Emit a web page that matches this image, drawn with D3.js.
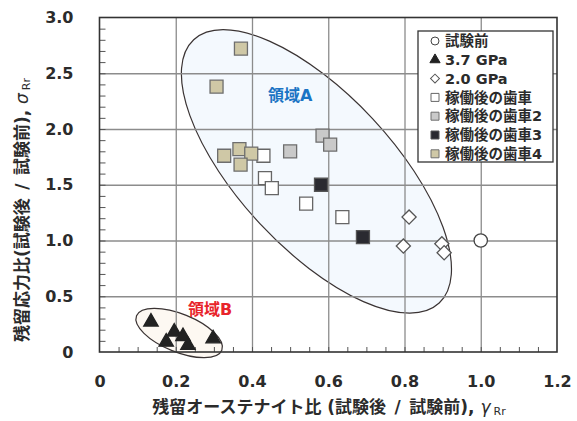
<!DOCTYPE html>
<html>
<head>
<meta charset="utf-8">
<script src="https://cdn.jsdelivr.net/npm/d3@7"></script>
<style>
body { margin: 0; background: #fff; }
text { font-family: "DejaVu Sans", "Noto Sans CJK JP", sans-serif; font-weight: bold; fill: #2b2b2b; }
</style>
</head>
<body>
<div class="canva"></div>
<script>
// data: [gamma Rr, sigma Rr]
const seriesNames = ["試験前", "3.7 GPa", "2.0 GPa", "稼働後の歯車", "稼働後の歯車2", "稼働後の歯車3", "稼働後の歯車4"];
const beforeTest = [[1.0, 1.0]];
const gpa37 = [[0.135, 0.27], [0.196, 0.18], [0.175, 0.09], [0.219, 0.14], [0.232, 0.06], [0.298, 0.12]];
const gpa20 = [[0.812, 1.21], [0.797, 0.95], [0.898, 0.97], [0.904, 0.89]];
const gear1 = [[0.43, 1.76], [0.434, 1.56], [0.452, 1.47], [0.542, 1.33], [0.637, 1.21]];
const gear2 = [[0.585, 1.94], [0.605, 1.86], [0.50, 1.80]];
const gear3 = [[0.581, 1.50], [0.691, 1.03]];
const gear4 = [[0.371, 2.72], [0.307, 2.38], [0.327, 1.76], [0.367, 1.82], [0.398, 1.78], [0.37, 1.68]];

const xTicks = [0, 0.2, 0.4, 0.6, 0.8, 1.0, 1.2];
const yTicks = [0, 0.5, 1.0, 1.5, 2.0, 2.5, 3.0];

const W = 577, H = 421;
const margin = {top: 17.5, right: 20, bottom: 69, left: 99.5};
const width = W - margin.left - margin.right;
const height = H - margin.top - margin.bottom;

const svg = d3.select(".canva").append("svg")
    .attr("width", W)
    .attr("height", H);

const g = svg.append("g")
    .attr("transform", `translate(${margin.left}, ${margin.top})`);

const x = d3.scaleLinear().domain([0, 1.2]).range([0, width]);
const y = d3.scaleLinear().domain([0, 3]).range([height, 0]);

// region ellipses (center in data units, radii in px)
const regions = [
    {cx: 0.569, cy: 1.62, rx: 180, ry: 77, angle: 47, fill: "#f4f9fe", label: "領域A", color: "#1b74c4", lx: 0.50, ly: 2.25},
    {cx: 0.209, cy: 0.17, rx: 46, ry: 19, angle: 22, fill: "#fdf8f2", label: "領域B", color: "#e8242b", lx: 0.29, ly: 0.33}
];

g.selectAll("ellipse.region")
    .data(regions)
    .enter()
    .append("ellipse")
    .attr("class", "region")
    .attr("transform", d => `translate(${x(d.cx)}, ${y(d.cy)}) rotate(${d.angle})`)
    .attr("rx", d => d.rx)
    .attr("ry", d => d.ry)
    .style("fill", d => d.fill)
    .style("stroke", "#3a3333")
    .style("stroke-width", 1.2);

// grid lines
g.append("g")
    .attr("transform", `translate(0, ${height})`)
    .call(d3.axisBottom(x).tickValues([0.2, 0.4, 0.6, 0.8, 1.0]).tickSize(height).tickFormat(""))
    .call(a => a.select(".domain").remove())
    .selectAll("line")
    .attr("transform", `translate(0, ${-height})`)
    .style("stroke", "#8c8c8c")
    .style("stroke-width", 1.3);

g.append("g")
    .call(d3.axisLeft(y).tickValues([0.5, 1.0, 1.5, 2.0, 2.5]).tickSize(-width).tickFormat(""))
    .call(a => a.select(".domain").remove())
    .selectAll("line")
    .style("stroke", "#8c8c8c")
    .style("stroke-width", 1.3);

// minor ticks inside
g.append("g")
    .attr("transform", `translate(0, ${height})`)
    .call(d3.axisBottom(x).tickValues(d3.range(1, 24).map(i => i * 0.05)).tickSize(-5).tickFormat(""))
    .call(a => a.select(".domain").remove())
    .selectAll("line").style("stroke", "#555").style("stroke-width", 1);

g.append("g")
    .call(d3.axisLeft(y).tickValues(d3.range(1, 30).map(i => i * 0.1)).tickSize(-6).tickFormat(""))
    .call(a => a.select(".domain").remove())
    .selectAll("line").style("stroke", "#555").style("stroke-width", 1);

// tick labels
const fmt = d => d === 0 ? "0" : d3.format(".1f")(d);

g.append("g")
    .attr("transform", `translate(0, ${height})`)
    .call(d3.axisBottom(x).tickValues(xTicks).tickSize(0).tickPadding(24).tickFormat(fmt))
    .call(a => a.select(".domain").remove())
    .selectAll("text")
    .style("font-size", "16px")
    .attr("fill", "#2b2b2b");

g.append("g")
    .call(d3.axisLeft(y).tickValues(yTicks).tickSize(0).tickPadding(26).tickFormat(fmt))
    .call(a => a.select(".domain").remove())
    .selectAll("text")
    .style("font-size", "16px")
    .attr("fill", "#2b2b2b");

// region labels
g.selectAll("text.region-label")
    .data(regions)
    .enter()
    .append("text")
    .attr("class", "region-label")
    .attr("x", d => x(d.lx))
    .attr("y", d => y(d.ly))
    .attr("text-anchor", "middle")
    .style("font-size", "16px")
    .style("fill", d => d.color)
    .text(d => d.label);

// markers
const markers = [
    {data: beforeTest, type: d3.symbolCircle, size: 140, fill: "#fff", stroke: "#444", rot: 0},
    {data: gpa37, type: d3.symbolTriangle, size: 90, fill: "#222", stroke: "#222", rot: 0},
    {data: gpa20, type: d3.symbolSquare, size: 100, fill: "#fff", stroke: "#555", rot: 45},
    {data: gear1, type: d3.symbolSquare, size: 169, fill: "#fff", stroke: "#666", rot: 0},
    {data: gear2, type: d3.symbolSquare, size: 169, fill: "#c9c9c9", stroke: "#6e6e6e", rot: 0},
    {data: gear3, type: d3.symbolSquare, size: 169, fill: "#2a2a30", stroke: "#555", rot: 0},
    {data: gear4, type: d3.symbolSquare, size: 169, fill: "#cfc8a6", stroke: "#6e6e6e", rot: 0}
];

markers.forEach(m => {
    g.append("g")
        .selectAll("path")
        .data(m.data)
        .enter()
        .append("path")
        .attr("d", d3.symbol().type(m.type).size(m.size))
        .attr("transform", d => `translate(${x(d[0])}, ${y(d[1])}) rotate(${m.rot})`)
        .style("fill", m.fill)
        .style("stroke", m.stroke)
        .style("stroke-width", 1.3);
});

// frame
g.append("rect")
    .attr("width", width)
    .attr("height", height)
    .style("fill", "none")
    .style("stroke", "#333")
    .style("stroke-width", 1.6);

// legend
const legend = svg.append("g").attr("transform", "translate(418, 31)");
legend.append("rect")
    .attr("width", 135)
    .attr("height", 131)
    .style("fill", "#fff")
    .style("stroke", "#333")
    .style("stroke-width", 1.3);

const legendSize = [50, 45, 40, 64, 64, 64, 64];
const items = legend.selectAll("g.item")
    .data(markers)
    .enter()
    .append("g")
    .attr("class", "item")
    .attr("transform", (d, i) => `translate(17, ${10 + i * 18.8})`);

items.append("path")
    .attr("d", (d, i) => d3.symbol().type(d.type).size(legendSize[i])())
    .attr("transform", d => `rotate(${d.rot})`)
    .style("fill", d => d.fill)
    .style("stroke", d => d.stroke)
    .style("stroke-width", 1);

items.append("text")
    .attr("x", 10)
    .attr("dy", "0.36em")
    .style("font-size", "14.5px")
    .text((d, i) => seriesNames[i]);

// axis titles
const xTitle = svg.append("text")
    .attr("x", 329)
    .attr("y", 413)
    .attr("text-anchor", "middle")
    .style("font-size", "17px");
xTitle.append("tspan").text("残留オーステナイト比 (試験後\u2002/\u2002試験前), ");
xTitle.append("tspan").style("font-style", "italic").style("font-weight", "normal").text("γ");
xTitle.append("tspan").attr("dx", 3).attr("dy", 2).style("font-size", "11px").style("font-weight", "normal").text("Rr");

const yTitle = svg.append("text")
    .attr("transform", "translate(28, 210) rotate(-90)")
    .attr("text-anchor", "middle")
    .style("font-size", "17px");
yTitle.append("tspan").text("残留応力比(試験後\u2002/\u2002試験前), ");
yTitle.append("tspan").style("font-style", "italic").style("font-weight", "normal").text("σ");
yTitle.append("tspan").attr("dx", 3).attr("dy", 2).style("font-size", "11px").style("font-weight", "normal").text("Rr");
</script>
</body>
</html>
